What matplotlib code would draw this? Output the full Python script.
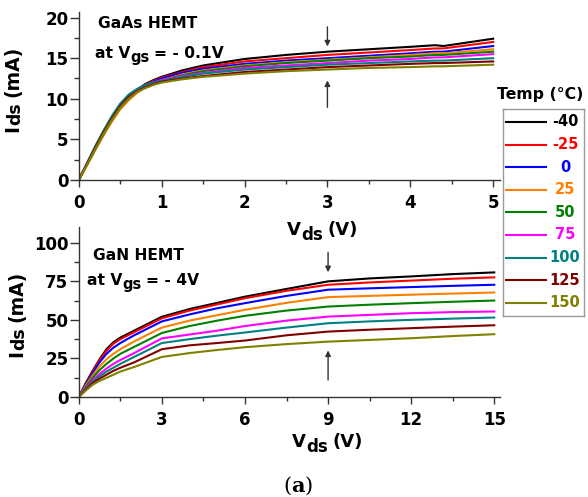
import matplotlib
matplotlib.use("Agg")
import matplotlib.pyplot as plt
from matplotlib.ticker import MultipleLocator
from matplotlib.text import Annotation

plt.rcParams['font.family'] = ['DejaVu Sans']
plt.rcParams['font.weight'] = 'bold'
plt.rcParams['mathtext.fontset'] = 'custom'
plt.rcParams['mathtext.sf'] = 'DejaVu Serif:bold'

W, H = 588, 497

# temperatures and colours
temps = ['-40', '-25', '0', '25', '50', '75', '100', '125', '150']
colors = ['#000000', '#ff0000', '#0000ff', '#ff8000', '#008000',
          '#ff00ff', '#008080', '#800000', '#808000']

# GaAs HEMT, Vgs = -0.1 V
vds_gaas = [0, 0.1, 0.2, 0.3, 0.4, 0.5, 0.6, 0.7, 0.8, 0.9, 1.0, 1.25, 1.5,
            2.0, 2.5, 3.0, 3.5, 4.0, 4.3, 4.4, 5.0]
ids_gaas = [
    [0, 2.0, 4.0, 5.9, 7.6, 9.1, 10.2, 11.1, 11.8, 12.3, 12.7, 13.5, 14.1, 14.9, 15.4, 15.8, 16.1, 16.4, 16.6, 16.5, 17.4],
    [0, 2.0, 4.0, 5.9, 7.6, 9.1, 10.2, 11.0, 11.7, 12.2, 12.6, 13.3, 13.9, 14.6, 15.0, 15.4, 15.7, 16.0, 16.2, 16.2, 17.0],
    [0, 2.0, 4.0, 5.9, 7.6, 9.1, 10.2, 11.0, 11.6, 12.1, 12.5, 13.2, 13.7, 14.3, 14.7, 15.0, 15.3, 15.6, 15.8, 15.8, 16.5],
    [0, 1.8, 3.7, 5.5, 7.2, 8.7, 9.8, 10.7, 11.4, 11.9, 12.3, 13.0, 13.5, 14.1, 14.5, 14.8, 15.1, 15.4, 15.6, 15.6, 16.1],
    [0, 1.9, 3.8, 5.7, 7.4, 8.9, 10.0, 10.9, 11.5, 12.0, 12.3, 12.9, 13.4, 14.0, 14.4, 14.7, 15.0, 15.2, 15.4, 15.4, 15.8],
    [0, 2.0, 4.0, 5.9, 7.6, 9.2, 10.3, 11.1, 11.6, 12.0, 12.3, 12.8, 13.2, 13.8, 14.1, 14.4, 14.7, 14.9, 15.1, 15.1, 15.5],
    [0, 2.1, 4.2, 6.1, 7.9, 9.4, 10.5, 11.2, 11.7, 12.0, 12.2, 12.7, 13.1, 13.6, 13.9, 14.2, 14.4, 14.6, 14.7, 14.7, 15.0],
    [0, 2.0, 4.0, 5.9, 7.6, 9.1, 10.2, 10.9, 11.4, 11.8, 12.1, 12.5, 12.8, 13.3, 13.6, 13.9, 14.1, 14.3, 14.4, 14.4, 14.6],
    [0, 1.9, 3.8, 5.7, 7.4, 8.9, 10.0, 10.8, 11.3, 11.7, 12.0, 12.4, 12.7, 13.1, 13.4, 13.6, 13.8, 13.9, 14.0, 14.0, 14.2],
]

# GaN HEMT, Vgs = -4 V
vds_gan = [0, 0.25, 0.5, 0.75, 1.0, 1.25, 1.5, 2, 3, 4, 5, 6, 7.5, 9, 10.5, 12, 13.5, 15]
ids_gan = [
    [0, 9, 17, 24.5, 31, 35.5, 38.5, 43, 52, 57, 61, 65, 70, 74.9, 76.8, 78.1, 79.6, 80.7],
    [0, 8.7, 16.5, 24, 30, 34.5, 37.5, 42, 51, 56, 60, 64, 68.8, 72.7, 74.2, 75.4, 76.6, 77.5],
    [0, 8.2, 15.5, 22.5, 28, 32, 35, 40, 49, 53.5, 57.5, 60.8, 65.5, 69.5, 70.4, 71.2, 72, 72.7],
    [0, 7.4, 14, 19.8, 24.5, 28, 31, 36, 45, 49.5, 53, 56.5, 61, 64.7, 65.5, 66.3, 67, 67.7],
    [0, 6.6, 12.5, 17.5, 21.5, 25, 28, 32.5, 41.5, 46, 49.5, 52.6, 56, 58.6, 59.8, 60.8, 61.7, 62.5],
    [0, 5.8, 11, 15, 18.5, 21.5, 24, 28.5, 38, 40.5, 43, 46, 49.5, 52.1, 53.2, 54.3, 55, 55.4],
    [0, 5.3, 10, 13.5, 16.5, 19, 21.5, 26, 35, 37.5, 39.8, 41.8, 45, 47.8, 49, 50, 50.8, 51.5],
    [0, 4.8, 9, 12, 14.5, 17, 19, 22.5, 31, 33.5, 35, 36.6, 40, 42.4, 43.6, 44.6, 45.6, 46.5],
    [0, 4.2, 8, 10.5, 12.5, 14.5, 16.5, 19.5, 26, 28.5, 30.5, 32.3, 34.3, 35.9, 37, 38.1, 39.5, 40.7],
]

fig = plt.figure(figsize=(W / 100, H / 100), dpi=100)
ax1 = fig.add_axes([0.134, 0.638, 0.716, 0.338])
ax2 = fig.add_axes([0.134, 0.201, 0.716, 0.342])


# text with a big, dropped subscript, e.g. V + ds + (V); x, y in pixels from top left
def sub_text(x, y, base, sub, rest, size, sub_size, drop, gap, rotation=0):
    kw = dict(fontweight='bold', rotation=rotation)
    if rotation == 0:
        t1 = fig.text(x / W, 1 - y / H, base, fontsize=size, ha='left', va='baseline', **kw)
        t2 = Annotation(sub, xy=(1, 0), xycoords=t1, xytext=(0, -drop),
                        textcoords='offset points', fontsize=sub_size,
                        ha='left', va='bottom', **kw)
        t3 = Annotation(rest, xy=(1, 0), xycoords=(t2, t1), xytext=(gap, 0),
                        textcoords='offset points', fontsize=size,
                        ha='left', va='bottom', **kw)
    else:
        t1 = fig.text(x / W, 1 - y / H, base, fontsize=size, ha='left', va='bottom', **kw)
        t2 = Annotation(sub, xy=(0, 1), xycoords=t1, xytext=(drop, 0),
                        textcoords='offset points', fontsize=sub_size,
                        ha='left', va='bottom', **kw)
        t3 = Annotation(rest, xy=(0, 1), xycoords=(t1, t2), xytext=(0, gap),
                        textcoords='offset points', fontsize=size,
                        ha='left', va='bottom', **kw)
    fig.add_artist(t2)
    fig.add_artist(t3)


def style_axis(ax):
    for s in ['top', 'right']:
        ax.spines[s].set_visible(False)
    for s in ['left', 'bottom']:
        ax.spines[s].set_linewidth(1.0)
        ax.spines[s].set_color('#333333')
    ax.tick_params(which='major', direction='out', width=1, labelsize=12, color='#333333')
    ax.tick_params(which='minor', direction='out', width=1, color='#333333')
    ax.tick_params(axis='y', which='major', length=6.5, pad=1)
    ax.tick_params(axis='y', which='minor', length=3.5)
    ax.tick_params(axis='x', which='major', length=5, pad=5)
    ax.tick_params(axis='x', which='minor', length=3)
    for lab in ax.get_xticklabels() + ax.get_yticklabels():
        lab.set_fontweight('bold')


for y, c in zip(ids_gaas, colors):
    ax1.plot(vds_gaas, y, color=c, lw=1.5)
ax1.set_xlim(0, 5.08)
ax1.set_ylim(0, 20.7)
ax1.xaxis.set_major_locator(MultipleLocator(1))
ax1.xaxis.set_minor_locator(MultipleLocator(0.5))
ax1.yaxis.set_major_locator(MultipleLocator(5))
ax1.yaxis.set_minor_locator(MultipleLocator(2.5))
style_axis(ax1)
ax1.annotate('', xy=(3, 16.1), xytext=(3, 19.2),
             arrowprops=dict(arrowstyle='-|>', color='#333333', lw=1, mutation_scale=8))
ax1.annotate('', xy=(3, 12.6), xytext=(3, 8.6),
             arrowprops=dict(arrowstyle='-|>', color='#333333', lw=1, mutation_scale=8))

for y, c in zip(ids_gan, colors):
    ax2.plot(vds_gan, y, color=c, lw=1.5)
ax2.set_xlim(0, 15.2)
ax2.set_ylim(0, 110)
ax2.xaxis.set_major_locator(MultipleLocator(3))
ax2.xaxis.set_minor_locator(MultipleLocator(1.5))
ax2.yaxis.set_major_locator(MultipleLocator(25))
ax2.yaxis.set_minor_locator(MultipleLocator(12.5))
style_axis(ax2)
ax2.annotate('', xy=(9, 79), xytext=(9, 95.5),
             arrowprops=dict(arrowstyle='-|>', color='#333333', lw=1, mutation_scale=8))
ax2.annotate('', xy=(9, 32), xytext=(9, 9.3),
             arrowprops=dict(arrowstyle='-|>', color='#333333', lw=1, mutation_scale=8))

# axis labels
sub_text(287, 235, 'V', 'ds', '(V)', 13, 12, 3.5, 3.5)
sub_text(292, 447, 'V', 'ds', '(V)', 13, 12, 3.5, 3.5)
sub_text(3, 132, 'I', 'ds', '(mA)', 13.5, 12.5, 2.5, 4, rotation=90)
sub_text(7, 357, 'I', 'ds', '(mA)', 13.5, 12.5, 2.5, 4, rotation=90)

# device notes
fig.text(98 / W, 1 - 28 / H, 'GaAs HEMT', fontsize=11.2, fontweight='bold', va='baseline')
sub_text(95, 58, 'at V', 'gs', '= - 0.1V', 11.2, 10.5, 3, 3)
fig.text(93 / W, 1 - 260 / H, 'GaN HEMT', fontsize=11.2, fontweight='bold', va='baseline')
sub_text(87, 285, 'at V', 'gs', '= - 4V', 11.2, 10.5, 3, 3)

# legend box drawn by hand
lg = fig.add_axes([503 / W, 1 - 316 / H, 81 / W, 207 / H])
lg.set_xlim(503, 584)
lg.set_ylim(316, 109)
lg.set_xticks([])
lg.set_yticks([])
for s in lg.spines.values():
    s.set_color('#999999')
    s.set_linewidth(1)
for i, (t, c) in enumerate(zip(temps, colors)):
    yy = 122 + i * 22.6
    lg.plot([506, 546], [yy, yy], color=c, lw=1.5)
    lg.text(565, yy, t, color=c, fontsize=10.5, fontweight='bold', ha='center', va='center')
fig.text(540 / W, 1 - 94 / H, 'Temp (°C)', fontsize=11.3, fontweight='bold',
         ha='center', va='center')

fig.text(298 / W, 1 - 486 / H, r'($\mathsf{a}$)', fontsize=15,
         family='DejaVu Serif', fontweight='normal', ha='center', va='center')

fig.savefig('out.png', dpi=100)
